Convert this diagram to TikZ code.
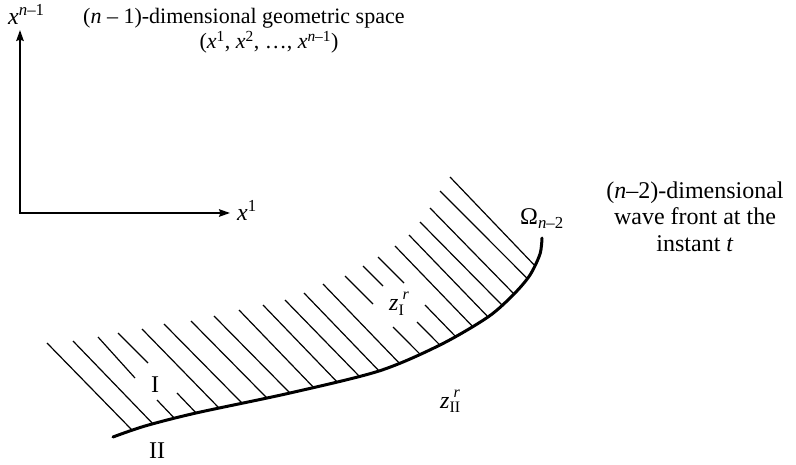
\documentclass[tikz,border=0pt]{standalone}
\usepackage{fontspec}
\setmainfont{Liberation Serif}
\usetikzlibrary{arrows.meta,calc}
\newcommand\vi[1]{\textit{#1}}
\newcommand\zsupsub[2]{\makebox[0pt][l]{\hspace{4pt}\raisebox{11pt}{\fontsize{16}{16}\selectfont#1}}\raisebox{-4.5pt}{\fontsize{16}{16}\selectfont#2}}
\begin{document}
\begin{tikzpicture}[x=1pt,y=-1pt,
  font=\fontsize{24}{27}\selectfont,
  axisline/.style={line width=1.8pt,{Stealth[length=11pt,width=7.5pt,inset=1.5pt]}-{Stealth[length=11pt,width=7.5pt,inset=1.5pt]}},
  hatchline/.style={line width=1.2pt},
  frontline/.style={line width=3pt,line cap=round},
  lbl/.style={inner sep=0pt},
  titlefont/.style={font=\fontsize{22}{26}\selectfont}]
\useasboundingbox (0,0) rectangle (796,465);
% axes
\coordinate (O) at (20,213);
\coordinate (ytip) at (20,30);
\coordinate (xtip) at (230,213);
\draw[axisline] (ytip) -- (O) -- (xtip);
\node[lbl,anchor=base west] (ylab) at (8,25) {\vi{x}\textsuperscript{\vi{n}–1}};
\node[lbl,anchor=base west] (xlab) at (237,221) {\vi{x}\textsuperscript{1}};
% titles
\node[lbl,titlefont,anchor=base west] (title1) at (83,24) {(\vi{n} – 1)-dimensional geometric space};
\node[lbl,titlefont,anchor=base] (title2) at (269,49) {(\vi{x}\textsuperscript{1}, \vi{x}\textsuperscript{2}, …, \vi{x}\textsuperscript{\vi{n}–1})};
\node[lbl,anchor=base] (rt1) at (695,199) {(\vi{n}–2)-dimensional};
\node[lbl,anchor=base] (rt2) at (695,225) {wave front at the};
\node[lbl,anchor=base] (rt3) at (695,252) {instant \vi{t}};
\node[lbl,anchor=base west] (omega) at (520,225) {Ω\textsubscript{\vi{n}–2}};
% hatching
\begin{scope}
\clip plot[smooth] coordinates {(113,437) (145,426) (196,413) (290,393) (379,371) (440,345) (488,317) (514,294) (530,275) (540,254) (542,238)}
  -- (542,0) -- (0,0) -- (0,437) -- cycle;
\foreach \xa/\ya/\xb/\yb in {47/343/131/429, 73/341/153/424, 142/329/219/408, 164/324/242/403,
  191/321/267/398, 214/316/290/393, 239/310/314/388, 263/305/338/383, 285/300/360/377,
  304/293/379/371, 323/284/400/364, 395/246/473/327, 409/235/488/317, 420/222/502/305,
  430/208/514/294, 440/191/527/278, 450/177/535/266,
  157/400/174/418, 177/393/196/413, 393/327/420/354, 417/322/440/345, 425/305/456/337}
  \draw[hatchline] (\xa,\ya) -- ($(\xb,\yb)+(8,8.2)$);
\foreach \xa/\ya/\xb/\yb in {98/337/135/378, 118/333/148/363, 345/276/373/304, 363/266/383/286, 378/257/404/283}
  \draw[hatchline] (\xa,\ya) -- (\xb,\yb);
\end{scope}
\draw[frontline] plot[smooth] coordinates {(113,437) (145,426) (196,413) (290,393) (379,371) (440,345) (488,317) (514,294) (530,275) (540,254) (542,238)};
% region labels
\node[lbl,anchor=base] (regI) at (155,392) {I};
\node[lbl,anchor=base] (regII) at (157,458) {II};
\node[lbl,anchor=base west] (zI) at (389,311) {\vi{z}\zsupsub{\vi{r}}{I}};
\node[lbl,anchor=base west] (zII) at (440,408) {\vi{z}\zsupsub{\vi{r}}{II}};
\end{tikzpicture}
\end{document}
